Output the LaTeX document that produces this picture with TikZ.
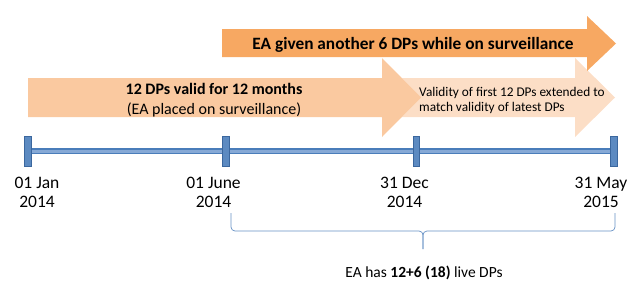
\documentclass[tikz,border=0pt]{standalone}
\usepackage{fontspec}
\setmainfont{Carlito}
\usetikzlibrary{positioning}

\definecolor{arrowdarkcol}{HTML}{F7A862}
\definecolor{arrowmidcol}{HTML}{FAC9A0}
\definecolor{arrowlightcol}{HTML}{FCDEC6}
\definecolor{tlblue}{HTML}{4A7DBA}
\definecolor{tlpale}{HTML}{86A9D6}
\definecolor{tickedge}{HTML}{3B679E}

\begin{document}
\begin{tikzpicture}[
      x=1pt, y=-1pt,
      arrowdark/.style={fill=arrowdarkcol},
      arrowmid/.style={fill=arrowmidcol},
      arrowlight/.style={fill=arrowlightcol},
      bigtext/.style={font=\fontsize{16}{20}\selectfont, inner sep=0pt},
      smalltext/.style={font=\fontsize{13.3}{15}\selectfont, inner sep=0pt, align=left},
      datetext/.style={font=\fontsize{17.5}{19}\selectfont, inner sep=0pt, align=center},
      tick/.style={draw=tickedge, fill=tlblue!90!white, line width=0.7pt, minimum width=6.5pt, minimum height=30pt, inner sep=0pt},
      timeline/.style={draw=tlblue, line width=1.4pt, double=tlpale, double distance=3pt},
      bracket/.style={draw=tlblue!85!white, line width=0.7pt, rounded corners=4pt}
  ]
      \useasboundingbox (0,0) rectangle (640,306);

      % Arrows
      \fill[arrowlight] (381,78) -- (575,78) -- (575,58) -- (615,97.5) -- (575,137) -- (575,117) -- (381,117) -- cycle;
      \fill[arrowmid] (28,78) -- (382,78) -- (382,58) -- (421,97.5) -- (382,137) -- (382,117) -- (28,117) -- cycle;
      \fill[arrowdark] (222,29) -- (587,29) -- (587,16) -- (616,43.5) -- (587,71) -- (587,57) -- (222,57) -- cycle;

      \node[bigtext, font=\fontsize{17.3}{20}\selectfont\bfseries] (given) at (413,45) {EA given another 6 DPs while on surveillance};
      \node[bigtext, align=center] (valid) at (214,100) {\textbf{12 DPs valid for 12 months}\\(EA placed on surveillance)};
      \node[smalltext, anchor=west] (extend) at (419,100) {Validity of first 12 DPs extended to\\match validity of latest DPs};

      % Timeline
      \node[tick] (t1) at (28,151) {};
      \node[tick] (t2) at (226,151) {};
      \node[tick] (t3) at (416.5,151) {};
      \node[tick] (t4) at (614,151) {};

      \draw[timeline] (t1) -- (t2);
      \draw[timeline] (t2) -- (t3);
      \draw[timeline] (t3) -- (t4);

      \node[datetext] (d1) at (37,192.5) {01 Jan\\2014};
      \node[datetext] (d2) at (213.5,192.5) {01 June\\2014};
      \node[datetext] (d3) at (404.5,192.5) {31 Dec\\2014};
      \node[datetext] (d4) at (601,192.5) {31 May\\2015};

      % Brace
      \coordinate (bl) at (231,213);
      \coordinate (br) at (615,213);
      \coordinate (bm) at (423,231);
      \coordinate (bt) at (423,249);
      \draw[bracket] (bl) |- (bm) -- (bt);
      \draw[bracket] (br) |- (bm) -- (bt);

      \node[bigtext, font=\fontsize{15.5}{19}\selectfont] (live) at (424,273) {EA has \textbf{12+6 (18)} live DPs};

  \end{tikzpicture}
\end{document}
